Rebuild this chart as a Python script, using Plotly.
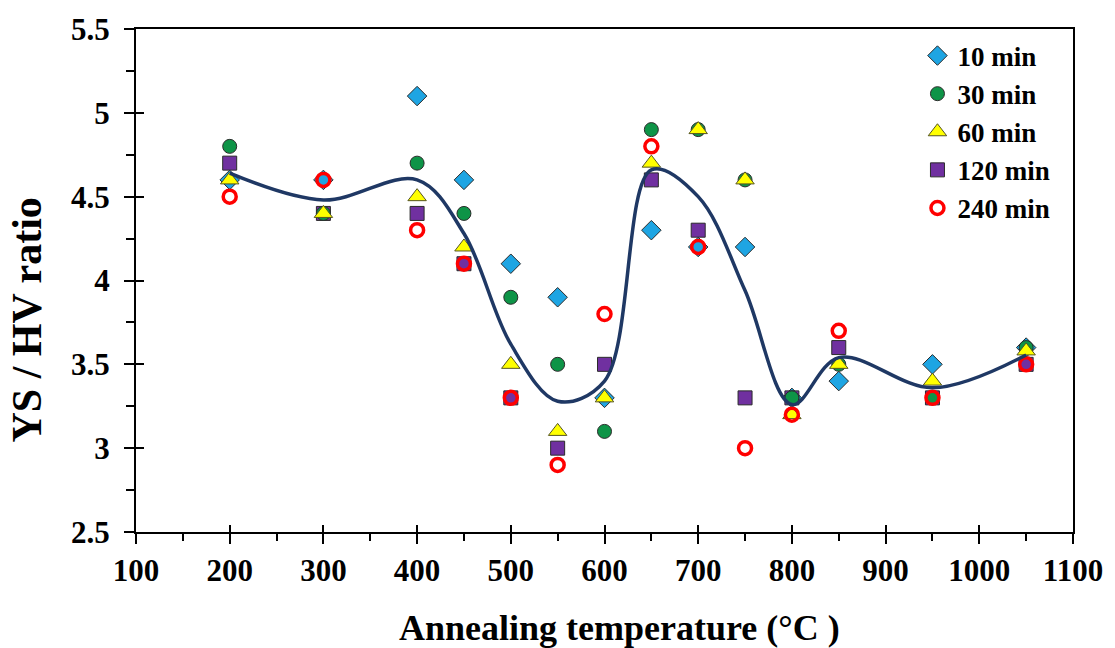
import numpy as np
import plotly.graph_objects as go

# Annealing temperatures (°C)
temperature = [200, 300, 400, 450, 500, 550, 600, 650, 700, 750, 800, 850, 950, 1050]

# YS / HV ratio for each annealing time
ratio_10min = [4.6, 4.6, 5.1, 4.6, 4.1, 3.9, 3.3, 4.3, 4.2, 4.2, 3.3, 3.4, 3.5, 3.6]
ratio_30min = [4.8, 4.4, 4.7, 4.4, 3.9, 3.5, 3.1, 4.9, 4.9, 4.6, 3.3, 3.5, 3.3, 3.6]
ratio_60min = [4.6, 4.4, 4.5, 4.2, 3.5, 3.1, 3.3, 4.7, 4.9, 4.6, 3.2, 3.5, 3.4, 3.58]
ratio_120min = [4.7, 4.4, 4.4, 4.1, 3.3, 3.0, 3.5, 4.6, 4.3, 3.3, 3.3, 3.6, 3.3, 3.5]
ratio_240min = [4.5, 4.6, 4.3, 4.1, 3.3, 2.9, 3.8, 4.8, 4.2, 3.0, 3.2, 3.7, 3.3, 3.5]

# Trend line through the mean of all annealing times
mean_ratio = np.mean(
    [ratio_10min, ratio_30min, ratio_60min, ratio_120min, ratio_240min], axis=0
)

FONT = "Liberation Serif"
EDGE = "#2b2b2b"

series = [
    # name, values, symbol, size, fill, line colour, line width, legend rank
    ("10 min", ratio_10min, "diamond", 15, "#1EA5E3", EDGE, 1, 1),
    ("120 min", ratio_120min, "square", 14, "#7030A0", EDGE, 1, 4),
    ("30 min", ratio_30min, "circle", 14, "#0E9447", EDGE, 1, 2),
    ("60 min", ratio_60min, "triangle-up", 16, "#FFFF00", "#555522", 1, 3),
    ("240 min", ratio_240min, "circle-open", 13, "#FF0000", "#FF0000", 3.5, 5),
]

fig = go.Figure()

for name, vals, sym, size, fill, lcol, lw, rank in series:
    marker = dict(symbol=sym, size=size, color=fill, line=dict(color=lcol, width=lw))
    if sym == "circle-open":
        marker = dict(symbol=sym, size=size, color=fill, line=dict(width=lw))
    fig.add_trace(go.Scatter(
        x=temperature, y=vals, mode="markers", name=name,
        marker=marker, legendrank=rank,
    ))

fig.add_trace(go.Scatter(
    x=temperature, y=mean_ratio, mode="lines", showlegend=False,
    line=dict(color="#1F3864", width=3.5, shape="spline", smoothing=1.0),
    hoverinfo="skip",
))

# Empty trace that keeps the overlay axes (inner tick halves) alive
fig.add_trace(go.Scatter(x=[], y=[], xaxis="x2", yaxis="y2", showlegend=False,
                         hoverinfo="skip"))

tick_font = dict(family=FONT, size=31, color="black", weight="bold")

fig.update_layout(
    width=1115, height=648,
    margin=dict(l=136, r=39, t=19, b=116),
    paper_bgcolor="white", plot_bgcolor="white",
    font=dict(family=FONT, color="black"),
    showlegend=True,
    legend=dict(
        x=0.834, y=0.995, xanchor="left", yanchor="top",
        font=dict(family=FONT, size=27, color="black", weight="bold"),
        bgcolor="rgba(0,0,0,0)", tracegroupgap=0,
    ),
    xaxis=dict(
        range=[100, 1100], dtick=100, tick0=100,
        showgrid=False, zeroline=False,
        showline=True, linecolor="black", linewidth=2, mirror=True,
        ticks="outside", ticklen=10, tickwidth=1.5, tickcolor="black",
        minor=dict(dtick=50, ticks="outside", ticklen=7, tickwidth=1.5, tickcolor="black"),
        tickfont=tick_font, ticklabelstandoff=0,
    ),
    yaxis=dict(
        range=[2.5, 5.5], dtick=0.5, tick0=2.5,
        showgrid=False, zeroline=False,
        showline=True, linecolor="black", linewidth=2, mirror=True,
        ticks="outside", ticklen=10, tickwidth=1.5, tickcolor="black",
        minor=dict(dtick=0.25, ticks="outside", ticklen=8, tickwidth=1.5, tickcolor="black"),
        tickfont=tick_font, ticklabelstandoff=8,
    ),
    # Inner halves of the major ticks so they cross the axis lines
    xaxis2=dict(
        overlaying="x", anchor="y2", side="bottom", range=[100, 1100], dtick=100, tick0=100,
        showgrid=False, zeroline=False, showline=False, showticklabels=False,
        ticks="inside", ticklen=7, tickwidth=1.5, tickcolor="black",
    ),
    yaxis2=dict(
        overlaying="y", anchor="x2", side="left", range=[2.5, 5.5], dtick=0.5, tick0=2.5,
        showgrid=False, zeroline=False, showline=False, showticklabels=False,
        ticks="inside", ticklen=8, tickwidth=1.5, tickcolor="black",
    ),
    annotations=[
        dict(
            text="YS / HV ratio", xref="paper", yref="paper",
            x=-0.116, y=0.421, xanchor="center", yanchor="middle",
            textangle=-90, showarrow=False,
            font=dict(family=FONT, size=42, color="black", weight="bold"),
        ),
        dict(
            text="Annealing temperature (°C )", xref="paper", yref="paper",
            x=0.516, y=-0.191, xanchor="center", yanchor="middle",
            showarrow=False,
            font=dict(family=FONT, size=36, color="black", weight="bold"),
        ),
    ],
)

fig.write_html("out.html")
